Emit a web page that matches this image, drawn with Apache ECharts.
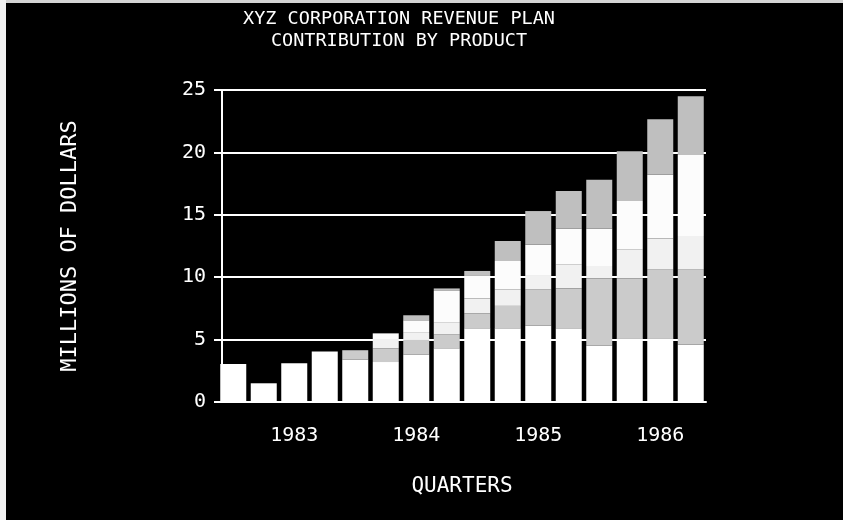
<!DOCTYPE html>
<html>
<head>
<meta charset="utf-8">
<script src="https://cdn.jsdelivr.net/npm/echarts@6/dist/echarts.min.js"></script>
<style>
  html, body { margin: 0; padding: 0; background: #000; }
  #chart { width: 843px; height: 520px; }
</style>
</head>
<body>
<div id="chart"></div>
<script>
// Quarterly revenue plan, stacked by product (millions of dollars)
const quarters = [
  '1983 Q1', '1983 Q2', '1983 Q3', '1983 Q4',
  '1984 Q1', '1984 Q2', '1984 Q3', '1984 Q4',
  '1985 Q1', '1985 Q2', '1985 Q3', '1985 Q4',
  '1986 Q1', '1986 Q2', '1986 Q3', '1986 Q4'
];
const productA = [3.05, 1.5, 3.1, 4.05, 3.4, 3.2, 3.8, 4.3, 5.9, 5.9, 6.1, 5.9, 4.5, 5.1, 5.1, 4.6];
const productB = [0, 0, 0, 0, 0.75, 1.1, 1.2, 1.1, 1.2, 1.8, 2.9, 3.2, 5.4, 4.8, 5.5, 6.0];
const productC = [0, 0, 0, 0, 0, 0.75, 0.6, 1.0, 1.2, 1.3, 1.1, 1.9, 1.0, 2.3, 2.5, 2.7];
const productD = [0, 0, 0, 0, 0, 0.45, 0.95, 2.5, 1.8, 2.3, 2.5, 2.9, 3.0, 3.9, 5.1, 6.5];
const productE = [0, 0, 0, 0, 0, 0, 0.4, 0.2, 0.4, 1.6, 2.7, 3.0, 3.9, 4.0, 4.45, 4.7];
const yTicks = [0, 5, 10, 15, 20, 25];

const FONT = '"DejaVu Sans Mono", "Liberation Mono", monospace';

const products = [
  { name: 'Product A', data: productA, color: '#ffffff' },
  { name: 'Product B', data: productB, color: '#cbcbcb' },
  { name: 'Product C', data: productC, color: '#f1f1f1' },
  { name: 'Product D', data: productD, color: '#fcfcfc' },
  { name: 'Product E', data: productE, color: '#bfbfbf' }
];

const chart = echarts.init(document.getElementById('chart'), null, { renderer: 'canvas' });

chart.setOption({
  backgroundColor: '#000000',
  animation: false,
  title: {
    text: 'XYZ CORPORATION REVENUE PLAN\nCONTRIBUTION BY PRODUCT',
    left: 394,
    top: 3,
    textAlign: 'center',
    textStyle: {
      color: '#ffffff',
      fontFamily: FONT,
      fontSize: 18.5,
      fontWeight: 'normal',
      lineHeight: 22
    }
  },
  graphic: [
    { type: 'rect', left: 0, top: 0, shape: { width: 843, height: 3 }, style: { fill: '#d4d4d4' }, z: 100 },
    { type: 'rect', left: 0, top: 0, shape: { width: 6, height: 520 }, style: { fill: '#f2f2f2' }, z: 100 }
  ],
  grid: {
    left: 218,
    top: 90,
    width: 488,
    height: 312
  },
  xAxis: {
    type: 'category',
    data: quarters,
    name: 'QUARTERS',
    nameLocation: 'middle',
    nameGap: 74,
    nameTextStyle: { color: '#ffffff', fontFamily: FONT, fontSize: 21 },
    axisLine: { lineStyle: { color: '#ffffff', width: 2 } },
    axisTick: {
      alignWithLabel: true,
      interval: 0,
      length: 12,
      lineStyle: { color: '#ffffff', width: 2 }
    },
    axisLabel: {
      interval: (index) => index % 4 === 2,
      formatter: (value) => value.slice(0, 4),
      color: '#ffffff',
      fontFamily: FONT,
      fontSize: 20,
      margin: 24
    }
  },
  yAxis: {
    type: 'value',
    min: yTicks[0],
    max: yTicks[yTicks.length - 1],
    interval: 5,
    offset: -4,
    name: 'MILLIONS OF DOLLARS',
    nameLocation: 'middle',
    nameGap: 141,
    nameRotate: 90,
    nameTextStyle: { color: '#ffffff', fontFamily: FONT, fontSize: 22 },
    axisLine: { show: true, lineStyle: { color: '#ffffff', width: 2 } },
    axisTick: { show: true, length: 8, lineStyle: { color: '#ffffff', width: 2 } },
    axisLabel: {
      color: '#ffffff',
      fontFamily: FONT,
      fontSize: 20,
      margin: 16
    },
    splitLine: { lineStyle: { color: '#ffffff', width: 2 } }
  },
  series: products.map((p) => ({
    name: p.name,
    type: 'bar',
    stack: 'revenue',
    barWidth: 26,
    data: p.data,
    itemStyle: { color: p.color }
  }))
});
</script>
</body>
</html>
